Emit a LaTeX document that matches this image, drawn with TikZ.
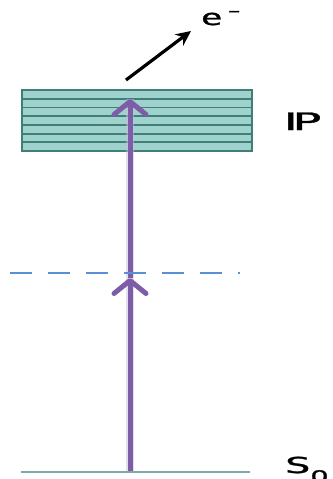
\documentclass[tikz,border=0pt]{standalone}
\usepackage{fontspec}
\setmainfont{DejaVu Sans}
\newfontfamily\heavyfont[FakeBold=1]{DejaVu Sans}
\usetikzlibrary{arrows.meta}
\definecolor{boxfill}{HTML}{A0D2CD}
\definecolor{boxline}{HTML}{3F7F78}
\definecolor{groundline}{HTML}{7FA9A3}
\definecolor{virtline}{HTML}{5A8FD4}
\definecolor{photon}{HTML}{7D5CA8}
\tikzset{
  lvltext/.style={inner sep=0pt, anchor=base west},
  photonarrow/.style={draw=photon, line width=5pt,
    -{Straight Barb[length=13pt,width=32pt,line width=5pt,round]}},
}
\begin{document}
\begin{tikzpicture}[x=1pt,y=-1pt]
\useasboundingbox (0,0) rectangle (332,479);
% ionisation continuum box
\node[draw=boxline, fill=boxfill, line width=2pt, minimum width=230pt, minimum height=61pt, inner sep=0pt, anchor=north west] (box) at (21,89) {};
\foreach \yy in {98.7,107.4,116.1,124.9,133.6,142.3}
  \draw[boxline, line width=1.8pt] (21,\yy) -- (251,\yy);
% ground state line
\coordinate (g1) at (21,472);
\coordinate (g2) at (250,472);
\draw[groundline, line width=2pt] (g1) -- (g2);
% photon arrows
\coordinate (p0) at (130,471);
\coordinate (pv) at (130,278);
\coordinate (pt) at (130,99);
\draw[photon!40, line width=8pt, opacity=0.5] (p0) -- (pt);
\draw[photonarrow] (p0) -- (pv);
\draw[photonarrow] (pv) -- (pt);
% virtual state
\coordinate (v1) at (10,273);
\coordinate (v2) at (240,273);
\draw[virtline, line width=2pt, dash pattern=on 22pt off 16pt] (v1) -- (v2);
% electron
\coordinate (e0) at (126,80);
\coordinate (e1) at (191,31);
\draw[black, line width=3.2pt, -{Stealth[length=15pt,width=14pt]}] (e0) -- (e1);
\node[lvltext] (elec) at (201,25) {\heavyfont\scalebox{1.55}[1]{\fontsize{22}{26}\selectfont e}\hspace{6pt}\raisebox{9pt}{\scalebox{1.5}[1]{\fontsize{16}{16}\selectfont –}}};
% labels
\node[lvltext] (ip) at (283.5,130) {\heavyfont\scalebox{2}[1]{\fontsize{24}{28}\selectfont I\kern-2.7pt P}};
\node[lvltext] (s0) at (285,473) {\heavyfont\scalebox{1.8}[1]{\fontsize{22}{26}\selectfont S\raisebox{-9pt}{\fontsize{16}{16}\selectfont 0}}};
\end{tikzpicture}
\end{document}
